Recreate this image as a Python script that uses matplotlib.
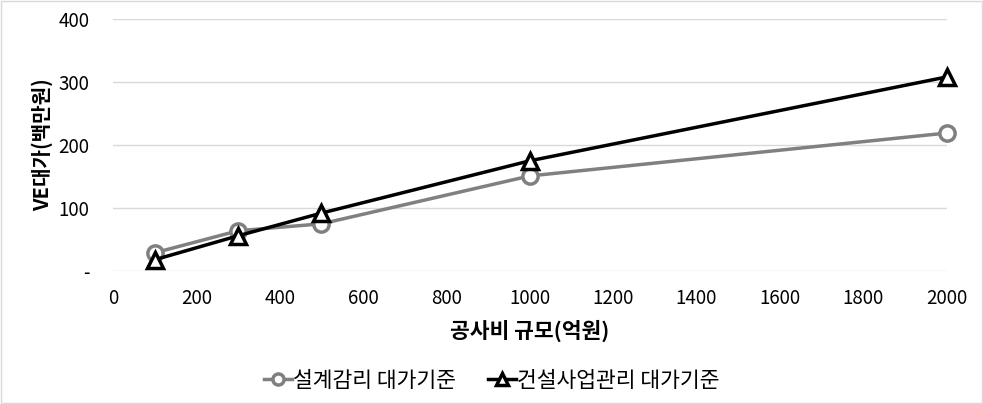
import matplotlib
matplotlib.use('Agg')
import matplotlib.pyplot as plt
from matplotlib.lines import Line2D

plt.rcParams['font.family'] = ['Noto Sans CJK KR', 'DejaVu Sans']

# data
cost = [100, 300, 500, 1000, 2000]
design_supervision = [29, 64, 75, 151, 219]
construction_mgmt = [18, 56, 92, 175, 308]
series_names = ['설계감리 대가기준', '건설사업관리 대가기준']
y_ticks = [0, 100, 200, 300, 400]
y_tick_labels = ['-', '100', '200', '300', '400']
x_ticks = list(range(0, 2001, 200))

fig = plt.figure(figsize=(9.83, 4.04), dpi=100)
ax = fig.add_axes([0.115, 0.329, 0.848, 0.624])

ax.plot(cost, design_supervision, color='#808080', lw=2.5, marker='o', ms=11,
        mfc='white', mec='#808080', mew=2.5, label=series_names[0], zorder=3,
        clip_on=False)
ax.plot(cost, construction_mgmt, color='black', lw=2.5, marker='^', ms=12,
        mfc='white', mec='black', mew=2.5, label=series_names[1], zorder=4,
        clip_on=False)

ax.set_xlim(0, 2000)
ax.set_ylim(0, 400)
ax.set_xticks(x_ticks)
ax.set_yticks(y_ticks, y_tick_labels)
ax.grid(axis='y', color='#d9d9d9', lw=1)
ax.set_axisbelow(True)
for s in ax.spines.values():
    s.set_visible(False)
ax.tick_params(length=0, labelsize=13.5)
ax.tick_params(axis='x', pad=12)
ax.tick_params(axis='y', pad=17)

ax.set_xlabel('공사비 규모(억원)', fontsize=15.5, fontweight='bold', labelpad=8)
ax.set_ylabel('VE대가(백만원)', fontsize=14.5, fontweight='bold', labelpad=4)

handles = [
    Line2D([], [], color='#808080', lw=2.5, marker='o', ms=8, mfc='white',
           mec='#808080', mew=2.5),
    Line2D([], [], color='black', lw=2.5, marker='^', ms=9, mfc='white',
           mec='black', mew=2.5),
]
fig.legend(handles, series_names, loc='center', bbox_to_anchor=(0.5, 0.057),
           ncol=2, frameon=False, fontsize=15.5, handlelength=1.3,
           handletextpad=0.05, columnspacing=1.5)

# light frame around the chart area like the source
fig.patches.append(plt.Rectangle((0.001, 0.002), 0.998, 0.996, transform=fig.transFigure,
                                 fill=False, edgecolor='#d9d9d9', lw=1))

fig.savefig('out.png', dpi=100)
